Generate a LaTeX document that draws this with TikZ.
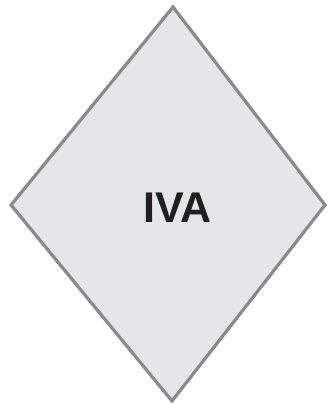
\documentclass[tikz,border=0pt]{standalone}
\usepackage{fontspec}
\setmainfont{Liberation Sans}
\begin{document}
\begin{tikzpicture}[x=1pt,y=-1pt]
\definecolor{dfill}{HTML}{E5E6E8}
\definecolor{dline}{HTML}{8A8A8A}
\definecolor{dtext}{HTML}{231F20}
\tikzset{diam/.style={draw=dline,fill=dfill,line width=3.2pt,line join=miter},
  lbl/.style={text=dtext,font=\fontsize{43}{50}\selectfont\bfseries,inner sep=0pt}}
\useasboundingbox (0,0) rectangle (327,403);
\coordinate (t) at (173,7);
\coordinate (r) at (325,205);
\coordinate (b) at (172,401);
\coordinate (l) at (11,205);
\draw[diam] (t) -- (r) -- (b) -- (l) -- cycle;
\node[lbl,anchor=base] (iva) at (177.5,222) {IVA};
\end{tikzpicture}
\end{document}
